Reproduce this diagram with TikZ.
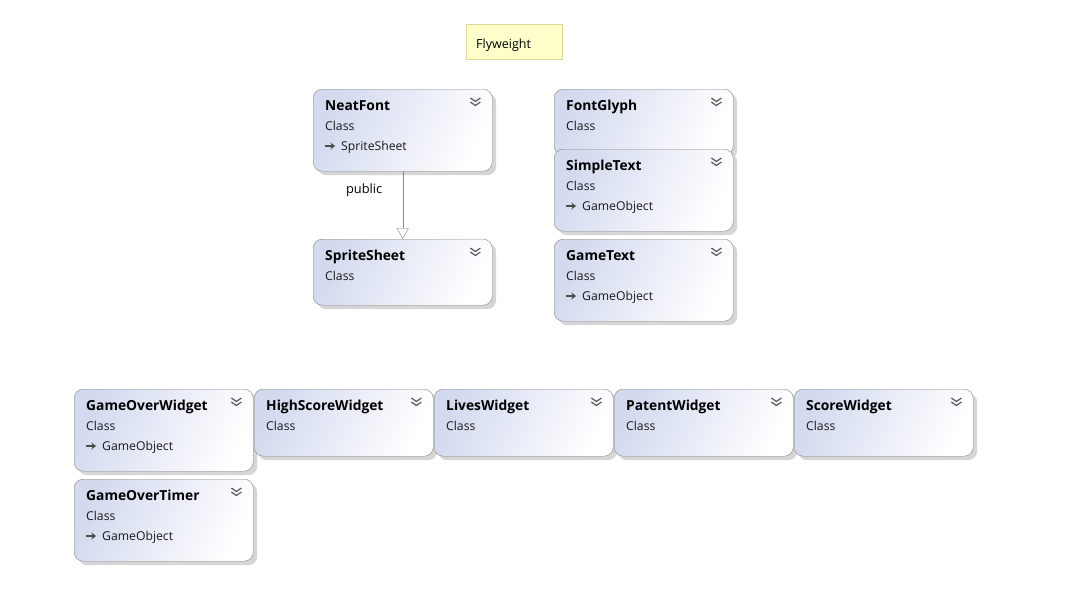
\documentclass[tikz,border=0pt]{standalone}
\usepackage{fontspec}
\setmainfont{Open Sans}
\usetikzlibrary{arrows.meta,shadows}
\definecolor{boxleft}{RGB}{211,218,239}
\definecolor{boxline}{RGB}{135,135,135}
\definecolor{notefill}{RGB}{255,255,204}
\definecolor{noteline}{RGB}{218,218,150}
\tikzset{
  classbox/.style={draw=boxline, rounded corners=9pt, left color=boxleft, right color=white,
    shading angle=65, minimum width=179pt, anchor=north west, inner sep=0pt,
    drop shadow={shadow xshift=4pt, shadow yshift=-4pt, fill=black!16, opacity=1}},
  ctitle/.style={anchor=base west, inner sep=0pt, font=\fontsize{13.8}{16}\selectfont\bfseries},
  cline/.style={anchor=base west, inner sep=0pt, font=\fontsize{12.2}{14}\selectfont, text=black!90},
  chev/.style={draw=black!65, line width=1.2pt},
  note/.style={draw=noteline, fill=notefill, anchor=north west, minimum width=96pt,
    minimum height=35pt, inner sep=0pt}
}
\begin{document}
\begin{tikzpicture}[x=1pt,y=1pt]
  \useasboundingbox (0,0) rectangle (1079,-595);
  \fill[white] (0,0) rectangle (1079,-595);
  % note
  \node[note] (flyweight) at (466,-24) {};
  \node[cline, font=\fontsize{12.5}{14}\selectfont, text=black] (flyweight-text) at ([xshift=10pt,yshift=-24pt]flyweight.north west) {Flyweight};
  % classes: name/x/y/height
  \foreach \n/\x/\y/\h in {NeatFont/313/89/82, SpriteSheet/313/239/66, FontGlyph/554/89/66,
      SimpleText/554/149/82, GameText/554/239/82, GameOverWidget/74/389/82,
      HighScoreWidget/254/389/67, LivesWidget/434/389/67, PatentWidget/614/389/67,
      ScoreWidget/794/389/67, GameOverTimer/74/479/82}{
    \node[classbox, minimum height=\h pt] (\n) at (\x,-\y) {};
    \node[ctitle] (\n-title) at ([xshift=12pt,yshift=-21pt]\n.north west) {\n};
    \node[cline] (\n-kind) at ([xshift=12pt,yshift=-41pt]\n.north west) {Class};
    \draw[chev] ([xshift=-22pt,yshift=-9pt]\n.north east) -- ++(5,-3.5) -- ++(5,3.5)
      ([xshift=-22pt,yshift=-13pt]\n.north east) -- ++(5,-3.5) -- ++(5,3.5);
  }
  % base types
  \foreach \n/\b in {NeatFont/SpriteSheet, SimpleText/GameObject, GameText/GameObject,
      GameOverWidget/GameObject, GameOverTimer/GameObject}{
    \node[cline] (\n-base) at ([xshift=28pt,yshift=-61pt]\n.north west) {\b};
    \draw[black!70, line width=1.6pt, -{Stealth[length=4.5pt,width=7pt]}]
      ([xshift=12pt,yshift=-57pt]\n.north west) -- ++(10,0);
  }
  % inheritance
  \draw[boxline, -{Triangle[open, length=11pt, width=12pt, fill=white]}] (NeatFont.south) -- (SpriteSheet.north)
    node[pos=0.25, left=17pt, yshift=-2pt, black, font=\fontsize{12.8}{14}\selectfont] (public) {public};
\end{tikzpicture}
\end{document}
